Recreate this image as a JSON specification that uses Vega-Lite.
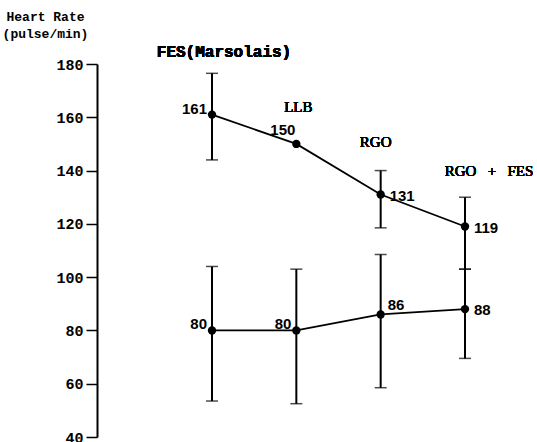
{
  "$schema": "https://vega.github.io/schema/vega-lite/v6.json",
  "width": 440,
  "height": 373,
  "autosize": "none",
  "padding": {"left": 97, "top": 64, "right": 0, "bottom": 5},
  "background": "white",
  "config": {"view": {"stroke": null}},
  "data": {
    "values": [
      {"mode": "FES(Marsolais)", "group": "upper", "rate": 161, "lo": 144, "hi": 176.5},
      {"mode": "LLB", "group": "upper", "rate": 150, "lo": null, "hi": null},
      {"mode": "RGO", "group": "upper", "rate": 131, "lo": 118.5, "hi": 140},
      {"mode": "RGO + FES", "group": "upper", "rate": 119, "lo": 103, "hi": 130},
      {"mode": "FES(Marsolais)", "group": "lower", "rate": 80, "lo": 53.5, "hi": 104},
      {"mode": "LLB", "group": "lower", "rate": 80, "lo": 52.5, "hi": 103},
      {"mode": "RGO", "group": "lower", "rate": 86, "lo": 58.5, "hi": 108.5},
      {"mode": "RGO + FES", "group": "lower", "rate": 88, "lo": 69.5, "hi": 103}
    ]
  },
  "encoding": {
    "x": {
      "field": "mode",
      "type": "ordinal",
      "scale": {"type": "point", "domain": ["FES(Marsolais)", "LLB", "RGO", "RGO + FES"], "range": [115, 368], "padding": 0},
      "axis": null
    }
  },
  "layer": [
    {
      "mark": {"type": "line", "color": "black", "strokeWidth": 1.8},
      "encoding": {
        "y": {
          "field": "rate",
          "type": "quantitative",
          "scale": {"domain": [40, 180], "nice": false, "zero": false},
          "axis": {
            "values": [40, 50, 60, 70, 80, 90, 100, 110, 120, 130, 140, 150, 160, 170, 180],
            "labelExpr": "datum.value % 20 === 0 ? datum.label : ''",
            "title": ["Heart Rate", "(pulse/min)"],
            "titleAngle": 0,
            "titleAlign": "center",
            "titleBaseline": "top",
            "titleX": -52,
            "titleY": -54,
            "titleFont": "Liberation Mono",
            "titleFontSize": 13,
            "titleFontWeight": "bold",
            "titleColor": "black",
            "titleLineHeight": 17,
            "labelFont": "Liberation Mono",
            "labelFontSize": 15,
            "labelFontWeight": "bold",
            "labelColor": "black",
            "labelPadding": 3,
            "labelBound": false,
            "labelFlush": false,
            "tickSize": 11,
            "tickWidth": 1.5,
            "tickColor": "black",
            "domainColor": "black",
            "domainWidth": 2,
            "grid": false
          }
        },
        "detail": {"field": "group"}
      }
    },
    {
      "transform": [{"filter": "datum.lo != null"}],
      "mark": {"type": "rule", "color": "black", "strokeWidth": 2},
      "encoding": {
        "y": {"field": "lo", "type": "quantitative"},
        "y2": {"field": "hi"}
      }
    },
    {
      "transform": [{"filter": "datum.lo != null"}],
      "mark": {"type": "tick", "color": "black", "thickness": 1.5, "size": 12},
      "encoding": {"y": {"field": "lo", "type": "quantitative"}}
    },
    {
      "transform": [{"filter": "datum.hi != null"}],
      "mark": {"type": "tick", "color": "black", "thickness": 1.5, "size": 12},
      "encoding": {"y": {"field": "hi", "type": "quantitative"}}
    },
    {
      "mark": {"type": "circle", "color": "black", "opacity": 1, "size": 70},
      "encoding": {"y": {"field": "rate", "type": "quantitative"}}
    },
    {
      "transform": [{"filter": "datum.mode === 'FES(Marsolais)' || (datum.mode === 'LLB' && datum.group === 'lower')"}],
      "mark": {"type": "text", "align": "right", "baseline": "middle", "dx": -5, "dy": -6, "font": "Liberation Sans", "fontSize": 15, "fontWeight": "bold", "color": "black"},
      "encoding": {"y": {"field": "rate", "type": "quantitative"}, "text": {"field": "rate"}}
    },
    {
      "transform": [{"filter": "datum.mode === 'LLB' && datum.group === 'upper'"}],
      "mark": {"type": "text", "align": "right", "baseline": "middle", "dx": -1, "dy": -14, "font": "Liberation Sans", "fontSize": 15, "fontWeight": "bold", "color": "black"},
      "encoding": {"y": {"field": "rate", "type": "quantitative"}, "text": {"field": "rate"}}
    },
    {
      "transform": [{"filter": "datum.mode === 'RGO' && datum.group === 'lower'"}],
      "mark": {"type": "text", "align": "left", "baseline": "middle", "dx": 7, "dy": -9, "font": "Liberation Sans", "fontSize": 15, "fontWeight": "bold", "color": "black"},
      "encoding": {"y": {"field": "rate", "type": "quantitative"}, "text": {"field": "rate"}}
    },
    {
      "transform": [{"filter": "(datum.mode === 'RGO' && datum.group === 'upper') || datum.mode === 'RGO + FES'"}],
      "mark": {"type": "text", "align": "left", "baseline": "middle", "dx": 9, "dy": 1, "font": "Liberation Sans", "fontSize": 15, "fontWeight": "bold", "color": "black"},
      "encoding": {"y": {"field": "rate", "type": "quantitative"}, "text": {"field": "rate"}}
    },
    {
      "mark": {"type": "text", "align": "center", "baseline": "middle", "dx": 12, "font": "Liberation Mono", "fontSize": 16, "fontWeight": "bold", "color": "black"},
      "encoding": {"x": {"datum": "FES(Marsolais)"}, "y": {"datum": 184.5, "type": "quantitative"}, "text": {"value": "FES(Marsolais)"}}
    },
    {
      "mark": {"type": "text", "align": "center", "baseline": "middle", "dx": 2, "font": "Liberation Serif", "fontSize": 15, "color": "black"},
      "encoding": {"x": {"datum": "LLB"}, "y": {"datum": 164, "type": "quantitative"}, "text": {"value": "LLB"}}
    },
    {
      "mark": {"type": "text", "align": "center", "baseline": "middle", "dx": -5, "font": "Liberation Serif", "fontSize": 15, "color": "black"},
      "encoding": {"x": {"datum": "RGO"}, "y": {"datum": 150.7, "type": "quantitative"}, "text": {"value": "RGO"}}
    },
    {
      "mark": {"type": "text", "align": "center", "baseline": "middle", "dx": 24, "font": "Liberation Serif", "fontSize": 15, "color": "black"},
      "encoding": {"x": {"datum": "RGO + FES"}, "y": {"datum": 139.8, "type": "quantitative"}, "text": {"value": "RGO\u00a0\u00a0\u00a0+\u00a0\u00a0\u00a0FES"}}
    }
  ]
}
